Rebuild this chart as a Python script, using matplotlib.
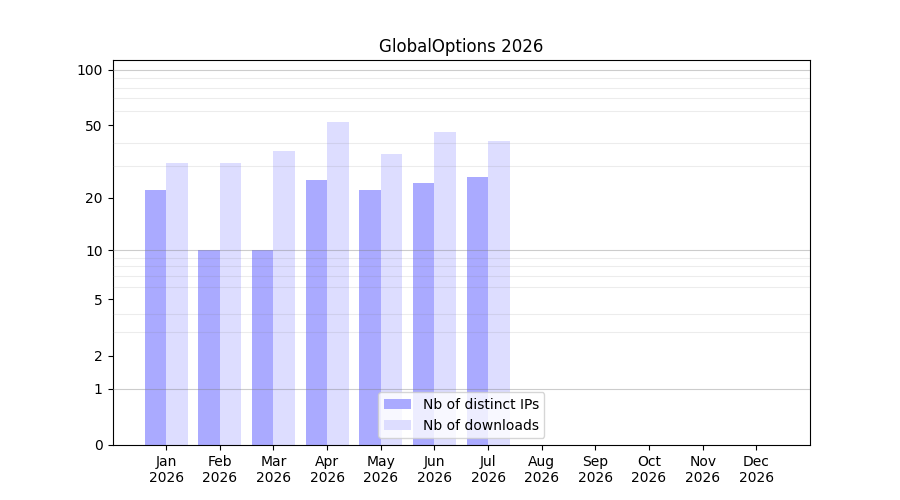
import numpy as np
import matplotlib
matplotlib.use("Agg")
import matplotlib.pyplot as plt
from matplotlib.ticker import FixedLocator, NullFormatter

title = "GlobalOptions 2026"
months = ["Jan", "Feb", "Mar", "Apr", "May", "Jun", "Jul", "Aug", "Sep", "Oct", "Nov", "Dec"]
year = "2026"
distinct_ips = [22, 10, 10, 25, 22, 24, 26]
downloads = [31, 31, 36, 52, 35, 46, 41]
ytick_values = [0, 1, 2, 5, 10, 20, 50, 100]

fig, ax = plt.subplots(figsize=(9, 5), dpi=100)

fwd = lambda v: np.log10(np.asarray(v, dtype=float) + 1)
inv = lambda v: 10 ** np.asarray(v, dtype=float) - 1
ax.set_yscale("function", functions=(fwd, inv))

x_ip = np.arange(len(distinct_ips))
x_dl = np.arange(len(downloads))
w = 0.4
ax.bar(x_ip - w / 2, distinct_ips, width=w, color="#aaaaff", label="Nb of distinct IPs", zorder=2)
ax.bar(x_dl + w / 2, downloads, width=w, color="#ddddff", label="Nb of downloads", zorder=2)

ax.set_xticks(np.arange(len(months)))
ax.set_xticklabels([f"{m}\n{year}" for m in months])
ax.set_xlim(-1, len(months))

ax.set_ylim(0, 113)
ax.yaxis.set_major_locator(FixedLocator(ytick_values))
ax.set_yticklabels([str(v) for v in ytick_values])
minor = [v for d in (1, 10) for v in range(2 * d, 10 * d + 1, d) if v not in (10, 100)]
ax.yaxis.set_minor_locator(FixedLocator(minor))
ax.yaxis.set_minor_formatter(NullFormatter())
ax.tick_params(axis="y", which="minor", length=0)
ax.grid(True, which="minor", axis="y", color="gray", alpha=0.15, linewidth=0.8, zorder=3)
ax.set_axisbelow(False)
for d in (1, 10, 100):
    ax.axhline(d, color="gray", alpha=0.4, linewidth=0.8, zorder=3)

ax.set_title(title)
ax.legend(loc="lower center")

fig.savefig("out.png", dpi=100)
